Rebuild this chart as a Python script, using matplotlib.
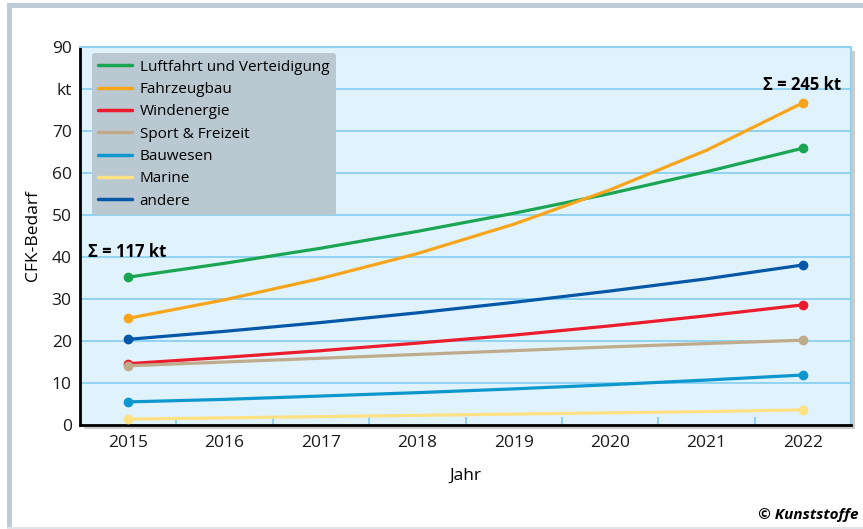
import matplotlib; matplotlib.use('Agg')
import matplotlib.pyplot as plt
from matplotlib.patches import Rectangle
from matplotlib.ticker import FixedLocator

plt.rcParams['font.family'] = ['Open Sans', 'DejaVu Sans']

years = [2015, 2016, 2017, 2018, 2019, 2020, 2021, 2022]
names = ['Luftfahrt und Verteidigung', 'Fahrzeugbau', 'Windenergie', 'Sport & Freizeit',
         'Bauwesen', 'Marine', 'andere']
luftfahrt = [35.2, 38.5, 42.1, 46.1, 50.4, 55.1, 60.3, 65.9]
fahrzeug = [25.4, 29.8, 34.9, 40.8, 47.8, 56.0, 65.4, 76.7]
wind = [14.6, 16.1, 17.7, 19.5, 21.4, 23.6, 26.0, 28.6]
sport = [14.1, 15.0, 15.9, 16.8, 17.7, 18.6, 19.4, 20.2]
bau = [5.5, 6.1, 6.9, 7.7, 8.6, 9.6, 10.7, 11.9]
marine = [1.4, 1.7, 2.0, 2.3, 2.6, 2.9, 3.2, 3.6]
andere = [20.4, 22.3, 24.4, 26.7, 29.2, 31.9, 34.8, 38.1]
series = [luftfahrt, fahrzeug, wind, sport, bau, marine, andere]
colors = ['#1aa553', '#f9a51b', '#ec1c2d', '#bfab8c', '#0e97cf', '#fde182', '#0558a8']
yticks = [0, 10, 20, 30, 40, 50, 60, 70, 80, 90]
ylabels = ['0', '10', '20', '30', '40', '50', '60', '70', 'kt', '90']

fig = plt.figure(figsize=(8.63, 5.29), dpi=100)
fig.patch.set_facecolor('white')
# outer frame bands
fig.add_artist(Rectangle((7/863, 0), 5/863, 1 - 3/529, transform=fig.transFigure, color='#bccbd6', lw=0))
fig.add_artist(Rectangle((7/863, 1 - 8/529), 1, 5/529, transform=fig.transFigure, color='#bccbd6', lw=0))
fig.add_artist(Rectangle((7/863, 0), 1, 2/529, transform=fig.transFigure, color='#dde5ea', lw=0))

L, B, W, H = 80/863, 1 - 425/529, 771/863, 378/529
# shadow
fig.add_artist(Rectangle((L + 4/863, B - 4/529), W, H, transform=fig.transFigure, color='#9a9a9a', alpha=0.5, lw=0, zorder=0))
ax = fig.add_axes([L, B, W, H])
ax.set_facecolor('#e0f2fb')
ax.set_xlim(2014.5, 2022.5)
ax.set_ylim(0, 90)

for v in yticks[1:-1]:
    ax.axhline(v, color='#8fd3f0', lw=1.4, zorder=1)

for vals, c, n in zip(series, colors, names):
    ax.plot(years, vals, color=c, lw=2.3, marker='o', ms=6, markevery=[0, len(years) - 1],
            solid_capstyle='round', solid_joinstyle='round', label=n, zorder=3)

ax.set_yticks(yticks)
ax.set_yticklabels(ylabels)
ax.set_xticks(years)
ax.xaxis.set_minor_locator(FixedLocator([y + 0.5 for y in years[:-1]]))
ax.tick_params(axis='both', which='major', length=0, labelsize=12.5, colors='#1a1a1a')
ax.tick_params(axis='y', pad=6)
ax.tick_params(axis='x', pad=7)
ax.tick_params(axis='x', which='minor', direction='in', length=6, width=1.2, color='#7fcbee')

for s in ['left', 'bottom']:
    ax.spines[s].set_color('black')
    ax.spines[s].set_linewidth(2)
for s in ['right', 'top']:
    ax.spines[s].set_color('#8fd3f0')
    ax.spines[s].set_linewidth(1.5)

ax.set_ylabel('CFK-Bedarf', fontsize=12.5, labelpad=8)
ax.set_xlabel('Jahr', fontsize=12.5, labelpad=12)

leg = ax.legend(loc='upper left', bbox_to_anchor=(0.015, 0.985), fontsize=11, frameon=True,
                facecolor='#b9c8d1', edgecolor='none', framealpha=1, fancybox=True,
                handlelength=2.2, handletextpad=0.5, labelspacing=0.48, borderpad=0.45,
                borderaxespad=0)
for line in leg.get_lines():
    line.set_marker('')
    line.set_linewidth(2.5)

ax.text(2014.58, 41.3, 'Σ = 117 kt', fontsize=12, fontweight='bold', ha='left', va='center', zorder=4)
ax.text(2022.4, 81.0, 'Σ = 245 kt', fontsize=12, fontweight='bold', ha='right', va='center', zorder=4)

fig.text(858/863, 1 - 515/529, '© Kunststoffe', fontsize=11, fontweight='bold', style='italic',
         ha='right', va='center')

plt.savefig('out.png', dpi=100, facecolor='white')
